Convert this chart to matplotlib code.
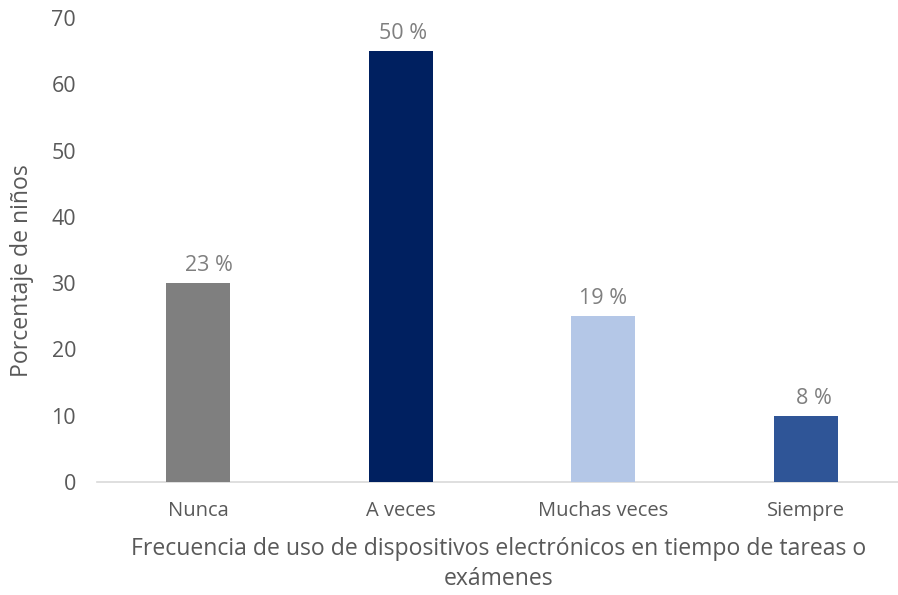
import matplotlib
matplotlib.use("Agg")
import matplotlib.pyplot as plt

categories = ["Nunca", "A veces", "Muchas veces", "Siempre"]
values = [30, 65, 25, 10]
pct_labels = ["23 %", "50 %", "19 %", "8 %"]
bar_colors = ["#7f7f7f", "#002060", "#b4c7e7", "#2f5597"]

plt.rcParams["font.family"] = ["Open Sans", "DejaVu Sans"]

fig = plt.figure(figsize=(8.98, 5.95), dpi=100)
ax = fig.add_axes([97 / 898, 113 / 595, 810 / 898, 464 / 595])

x = range(len(categories))
bars = ax.bar(x, values, width=0.316, color=bar_colors, zorder=3)
# label nudges as placed in the original (points)
nudge = [8, 2, 0, 6]
for b, lab, dx in zip(bars, pct_labels, nudge):
    ax.annotate(lab, (b.get_x() + b.get_width() / 2, b.get_height()),
                textcoords="offset points", xytext=(dx, 5),
                ha="center", va="bottom", fontsize=15.5, color="#7f7f7f")

ax.set_xlim(-0.5, 3.5)
ax.set_ylim(0, 70)
ax.set_yticks(range(0, 71, 10))
ax.set_xticks(list(x))
ax.set_xticklabels(categories, fontsize=14.5, color="#595959")
ax.tick_params(axis="y", labelsize=15.5, labelcolor="#595959", length=0, pad=15)
ax.tick_params(axis="x", length=0, pad=14)

for s in ["top", "right", "left"]:
    ax.spines[s].set_visible(False)
ax.spines["bottom"].set_color("#d9d9d9")
ax.spines["bottom"].set_linewidth(1.2)

fig.text(22 / 898, 1 - 271 / 595, "Porcentaje de niños", rotation=90,
         ha="center", va="center", fontsize=16.6, color="#595959")
fig.text(499 / 898, 1 - 564 / 595,
         "Frecuencia de uso de dispositivos electrónicos en tiempo de tareas o\nexámenes",
         ha="center", va="center", fontsize=16.6, color="#595959", linespacing=1.3)

fig.savefig("out.png", dpi=100, facecolor="white")
